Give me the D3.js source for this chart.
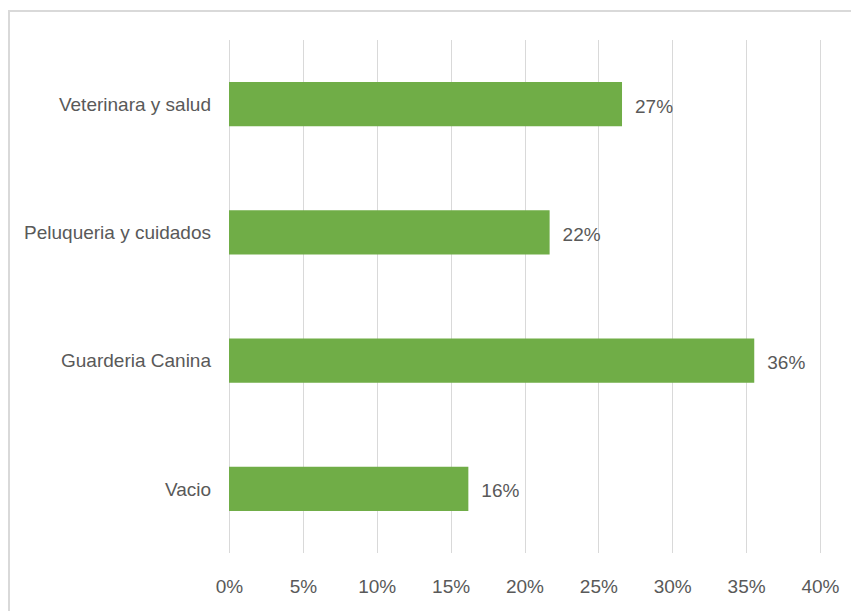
<!DOCTYPE html>
<html>
<head>
<meta charset="utf-8">
<script src="https://cdn.jsdelivr.net/npm/d3@7/dist/d3.min.js"></script>
<style>
  html, body { margin: 0; padding: 0; background: #fff; }
  svg { display: block; }
  text { font-family: "Liberation Sans", Arial, sans-serif; fill: #595959; }
</style>
</head>
<body>
<script>
// Service categories, top to bottom
const categories = ["Veterinara y salud", "Peluqueria y cuidados", "Guarderia Canina", "Vacio"];
// Share of responses per category
const shares = [0.266, 0.217, 0.3555, 0.162];
// Axis ticks
const tickValues = [0, 0.05, 0.10, 0.15, 0.20, 0.25, 0.30, 0.35, 0.40];

const W = 851, H = 611;
const plot = { left: 229, right: 820, top: 40, bottom: 553 };

const svg = d3.select("body").append("svg")
  .attr("width", W).attr("height", H);

svg.append("rect").attr("width", W).attr("height", H).attr("fill", "#fff");

// Chart frame
svg.append("rect")
  .attr("x", 9).attr("y", 11)
  .attr("width", W + 20).attr("height", H + 20)
  .attr("fill", "none")
  .attr("stroke", "#d9d9d9")
  .attr("stroke-width", 2);

const x = d3.scaleLinear().domain([0, 0.40]).range([plot.left, plot.right]);
const y = d3.scaleBand().domain(categories).range([plot.top, plot.bottom])
  .paddingInner(0.655).paddingOuter(0.3275);

const pct = d3.format(".0%");

// Vertical gridlines
svg.append("g").selectAll("line").data(tickValues).join("line")
  .attr("x1", d => Math.round(x(d)) + 0.5).attr("x2", d => Math.round(x(d)) + 0.5)
  .attr("y1", plot.top).attr("y2", plot.bottom)
  .attr("stroke", "#d9d9d9").attr("stroke-width", 1);

// Bottom axis labels
const xAxis = d3.axisBottom(x).tickValues(tickValues).tickFormat(pct).tickSize(0).tickPadding(0);
const gx = svg.append("g").attr("transform", `translate(0,${plot.bottom})`).call(xAxis);
gx.select(".domain").remove();
gx.selectAll("text")
  .attr("y", 40).attr("dy", null)
  .style("font-size", "19px")
  .style("font-family", "'Liberation Sans', Arial, sans-serif")
  .attr("fill", "#595959");

// Category labels
const yAxis = d3.axisLeft(y).tickSize(0).tickPadding(18);
const gy = svg.append("g").attr("transform", `translate(${plot.left},0)`).call(yAxis);
gy.select(".domain").remove();
gy.selectAll("text")
  .attr("dy", "0.35em")
  .style("font-size", "19px")
  .style("font-family", "'Liberation Sans', Arial, sans-serif")
  .attr("fill", "#595959");

// Bars
svg.append("g").selectAll("rect").data(categories).join("rect")
  .attr("x", x(0))
  .attr("y", d => y(d))
  .attr("width", (d, i) => x(shares[i]) - x(0))
  .attr("height", y.bandwidth())
  .attr("fill", "#70ad47");

// Value labels
svg.append("g").selectAll("text").data(categories).join("text")
  .attr("x", (d, i) => x(shares[i]) + 13)
  .attr("y", d => y(d) + y.bandwidth() / 2)
  .attr("dy", "0.45em")
  .style("font-size", "19px")
  .text((d, i) => pct(shares[i]));
</script>
</body>
</html>
